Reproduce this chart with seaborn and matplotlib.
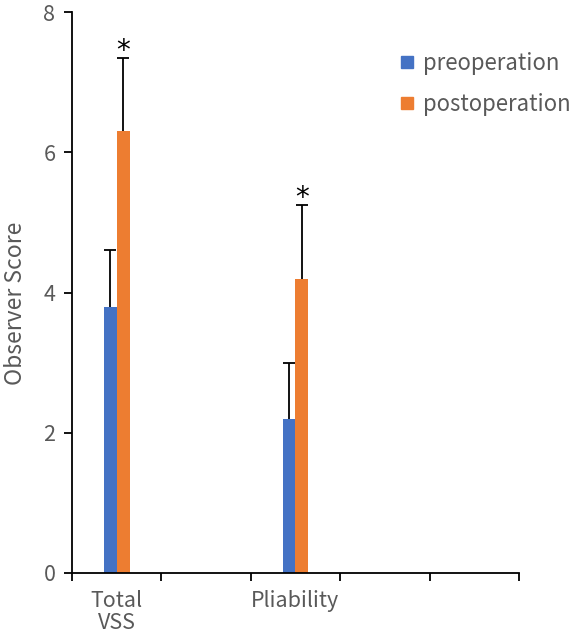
import pandas as pd
import numpy as np
import matplotlib
matplotlib.use('Agg')
import matplotlib.pyplot as plt
import seaborn as sns
from matplotlib.lines import Line2D

# data
categories = ['Total\nVSS', 'Pliability']
slots = ['Total\nVSS', ' ', 'Pliability', '  ', '   ']
pre_mean = [3.8, 2.2]
pre_sd = [0.8, 0.8]
post_mean = [6.3, 4.2]
post_sd = [1.05, 1.05]
groups = ['preoperation', 'postoperation']
colors = ['#4472C4', '#ED7D31']

df = pd.DataFrame({
    'Category': categories * 2,
    'Group': [groups[0]] * 2 + [groups[1]] * 2,
    'Score': pre_mean + post_mean,
    'SD': pre_sd + post_sd,
})

sns.set_style('white')
plt.rcParams['font.family'] = ['Noto Sans CJK SC', 'DejaVu Sans']
text_color = '#595959'

fig = plt.figure(figsize=(5.71, 6.37), dpi=100)
ax = fig.add_axes([0.126, 0.1005, 0.783, 0.8805])

sns.barplot(data=df, x='Category', y='Score', hue='Group', order=slots,
            hue_order=groups, palette=colors, width=0.29, gap=0, saturation=1,
            linewidth=0, errorbar=None, ax=ax, legend=False)

# one-sided (upper) error bars and significance marks
cap = 0.067
for cont, grp in zip(ax.containers, groups):
    sub = df[df['Group'] == grp]
    pts = [(p.get_x() + p.get_width() / 2, p.get_height()) for p in cont.patches
           if not np.isnan(p.get_height())]
    for (x, h), s in zip(pts, sub['SD'].tolist()):
        ax.vlines(x, h, h + s, color='black', linewidth=1.3)
        ax.hlines(h + s, x - cap, x + cap, color='black', linewidth=1.3)
        if grp == 'postoperation':
            ax.text(x, h + s - 0.1, '*', ha='center', va='bottom', fontsize=20,
                    color='black', family='DejaVu Sans')

ax.set_ylim(0, 8)
ax.set_xlim(-0.5, 4.5)
ax.set_yticks([0, 2, 4, 6, 8])
ax.set_xticks(range(5))
ax.set_xticklabels(['Total\nVSS', '', 'Pliability', '', ''], linespacing=1.0)
ax.set_xticks(np.arange(-0.5, 5, 1), minor=True)
ax.tick_params(axis='x', which='major', length=0, pad=12, labelsize=15.5, labelcolor=text_color)
ax.tick_params(axis='x', which='minor', length=6, width=1.3, direction='out', color='black', bottom=True)
ax.tick_params(axis='y', length=6, width=1.3, direction='out', color='black', left=True,
               labelsize=15.5, labelcolor=text_color, pad=6)
ax.set_xlabel('')
ax.set_ylabel('Observer Score', fontsize=16.5, color=text_color)
ax.yaxis.set_label_coords(-0.10, 0.48)

sns.despine(ax=ax)
for s in ['left', 'bottom']:
    ax.spines[s].set_color('black')
    ax.spines[s].set_linewidth(1.3)

handles = [Line2D([0], [0], marker='s', color='none', markerfacecolor=c,
                  markeredgecolor=c, markersize=8) for c in colors]
leg = ax.legend(handles, groups, loc='upper left', bbox_to_anchor=(0.69, 0.965),
                frameon=False, fontsize=16, handlelength=0.6, handletextpad=0.4,
                labelspacing=0.8)
for t in leg.get_texts():
    t.set_color(text_color)

plt.savefig('out.png', dpi=100)
